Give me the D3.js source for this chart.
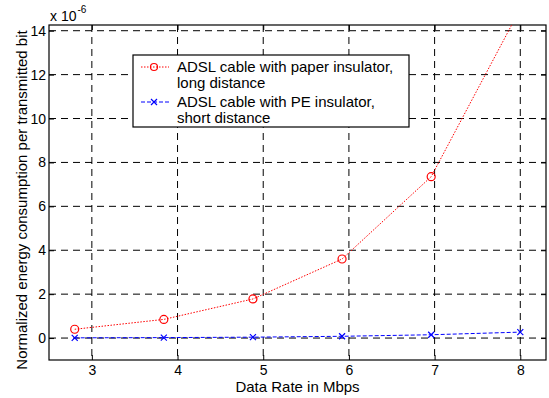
<!DOCTYPE html>
<html>
<head>
<meta charset="utf-8">
<script src="https://cdn.jsdelivr.net/npm/d3@7"></script>
<style>
  body { margin: 0; background: #fff; }
  text { font-family: "Liberation Sans", Arial, sans-serif; }
</style>
</head>
<body>
<script>
// data, energy in units of 1e-6
const rates = [2.8, 3.84, 4.88, 5.92, 6.96, 8.0];
const paperLong = [0.40, 0.85, 1.78, 3.60, 7.35, 15.0];
const peShort = [0.01, 0.02, 0.04, 0.08, 0.15, 0.27];
const xTicks = [3, 4, 5, 6, 7, 8];
const yTicks = [0, 2, 4, 6, 8, 10, 12, 14];
const legendLabels = [
  ["ADSL cable with paper insulator,", "long distance"],
  ["ADSL cable with PE insulator,", "short distance"]
];

const W = 549, H = 398;
const m = {left: 49, right: 3, top: 25, bottom: 38};
const iw = W - m.left - m.right, ih = H - m.top - m.bottom;

const x = d3.scaleLinear().domain([2.5, 8.3]).range([0, iw]);
const y = d3.scaleLinear().domain([-1, 14.26]).range([ih, 0]);

const svg = d3.select('body').append('svg')
    .attr('width', W).attr('height', H);

const g = svg.append('g').attr('transform', `translate(${m.left},${m.top})`);

// grid
g.append('g').selectAll('line').data(xTicks).join('line')
    .attr('x1', d => x(d)).attr('x2', d => x(d))
    .attr('y1', 0).attr('y2', ih)
    .attr('stroke', '#000').attr('stroke-width', 1).attr('stroke-dasharray', '7,5');
g.append('g').selectAll('line').data(yTicks).join('line')
    .attr('y1', d => y(d)).attr('y2', d => y(d))
    .attr('x1', 0).attr('x2', iw)
    .attr('stroke', '#000').attr('stroke-width', 1).attr('stroke-dasharray', '7,5');

// axes (MATLAB style, ticks inside)
g.append('g').attr('transform', `translate(0,${ih})`)
    .call(d3.axisBottom(x).tickValues(xTicks).tickFormat(d3.format('d'))
      .tickSizeInner(-5).tickSizeOuter(0).tickPadding(5))
    .call(s => { s.select('.domain').remove(); s.selectAll('text').attr('font-size', 14).attr('fill', '#000'); });
g.append('g')
    .call(d3.axisLeft(y).tickValues(yTicks).tickFormat(d3.format('d'))
      .tickSizeInner(-5).tickSizeOuter(0).tickPadding(3))
    .call(s => { s.select('.domain').remove(); s.selectAll('text').attr('font-size', 14).attr('fill', '#000'); });
g.append('g').attr('transform', `translate(${iw},0)`)
    .call(d3.axisRight(y).tickValues(yTicks).tickSizeInner(-5).tickSizeOuter(0).tickFormat(''))
    .call(s => s.select('.domain').remove());
g.append('g')
    .call(d3.axisTop(x).tickValues(xTicks).tickSizeInner(-5).tickSizeOuter(0).tickFormat(''))
    .call(s => s.select('.domain').remove());

g.append('rect').attr('width', iw).attr('height', ih)
    .attr('fill', 'none').attr('stroke', '#000').attr('stroke-width', 1.2);

// series
g.append('clipPath').attr('id', 'clip')
    .append('rect').attr('width', iw).attr('height', ih);
const plot = g.append('g').attr('clip-path', 'url(#clip)');
const line = d3.line().x((d, i) => x(rates[i])).y(d => y(d));

plot.append('path').datum(paperLong).attr('d', line)
    .attr('fill', 'none').attr('stroke', '#f00').attr('stroke-width', 1).attr('stroke-dasharray', '1.5,1.5');
plot.selectAll('circle.red').data(paperLong).join('circle').attr('class', 'red')
    .attr('cx', (d, i) => x(rates[i])).attr('cy', d => y(d)).attr('r', 4)
    .attr('fill', 'none').attr('stroke', '#f00').attr('stroke-width', 1.2);

plot.append('path').datum(peShort).attr('d', line)
    .attr('fill', 'none').attr('stroke', '#00f').attr('stroke-width', 1).attr('stroke-dasharray', '4,2');
const cross = (sel, cx, cy, r) => sel.append('path')
    .attr('d', `M${cx - r},${cy - r}L${cx + r},${cy + r}M${cx - r},${cy + r}L${cx + r},${cy - r}`)
    .attr('stroke', '#00f').attr('stroke-width', 1.2);
peShort.forEach((d, i) => cross(plot, x(rates[i]), y(d), 3));

// legend
const lg = svg.append('g').attr('transform', 'translate(133,55)');
lg.append('rect').attr('width', 276).attr('height', 72)
    .attr('fill', '#fff').attr('stroke', '#000').attr('stroke-width', 1.2);
const legendRows = [
  {color: '#f00', dash: '1.5,1.5', mark: 'o', cy: 12},
  {color: '#00f', dash: '4,2', mark: 'x', cy: 47}
];
legendRows.forEach((r, i) => {
  lg.append('line').attr('x1', 8).attr('x2', 36).attr('y1', r.cy).attr('y2', r.cy)
    .attr('stroke', r.color).attr('stroke-dasharray', r.dash);
  if (r.mark === 'o') {
    lg.append('circle').attr('cx', 21).attr('cy', r.cy).attr('r', 3.5)
      .attr('fill', 'none').attr('stroke', r.color).attr('stroke-width', 1.2);
  } else {
    cross(lg, 21, r.cy, 3);
  }
  lg.selectAll(null).data(legendLabels[i]).join('text')
    .attr('x', 44).attr('y', (d, j) => r.cy + 4.5 + j * 16.5)
    .attr('font-size', 15).text(d => d);
});

// labels
svg.append('text').attr('x', m.left + iw / 2).attr('y', 392)
    .attr('text-anchor', 'middle').attr('font-size', 15).text('Data Rate in Mbps');
svg.append('text').attr('transform', 'translate(27,200) rotate(-90)')
    .attr('text-anchor', 'middle').attr('font-size', 15)
    .text('Normalized energy consumption per transmitted bit');
const ex = svg.append('text').attr('x', 50).attr('y', 21).attr('font-size', 14);
ex.append('tspan').text('x 10');
ex.append('tspan').attr('font-size', 10).attr('dy', -8).attr('dx', 1).text('-6');
</script>
</body>
</html>
